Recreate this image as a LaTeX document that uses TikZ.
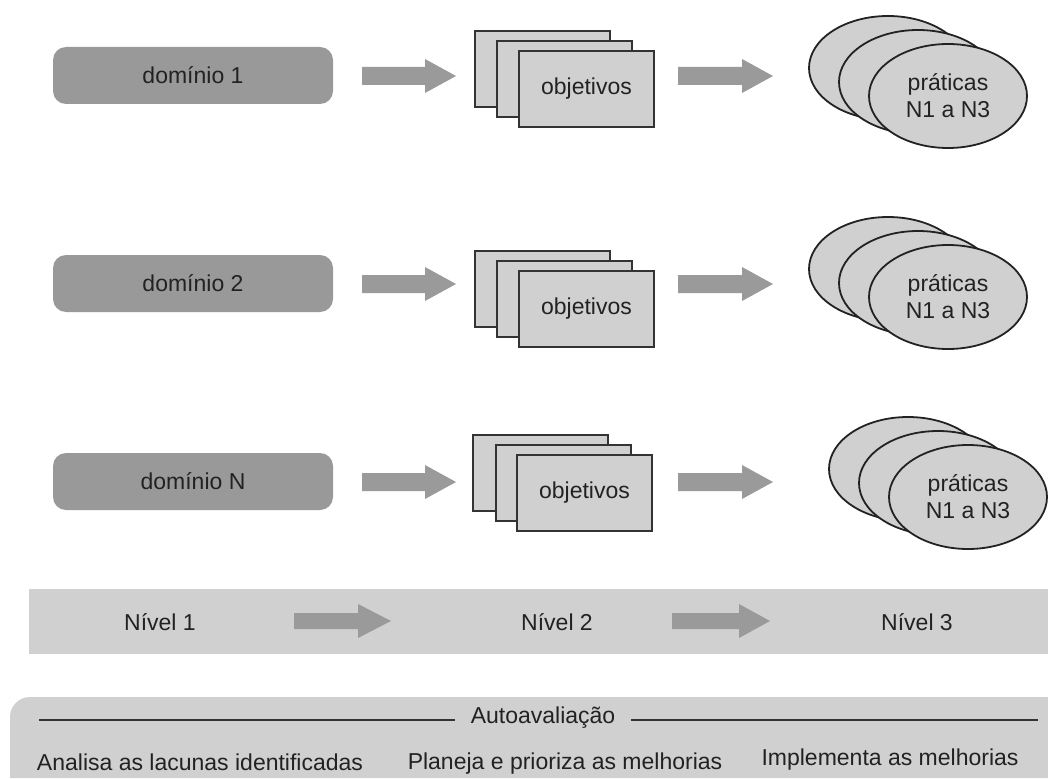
\documentclass[tikz,border=0pt]{standalone}
\usepackage{fontspec}
\setmainfont{Liberation Sans}
\usetikzlibrary{shapes.geometric}
\definecolor{darkbox}{HTML}{999999}
\definecolor{lightbox}{HTML}{D0D0D0}
\definecolor{arrowgray}{HTML}{9A9A9A}
\definecolor{inkgray}{HTML}{222222}
\definecolor{edgegray}{HTML}{333333}
\newcommand{\blkarrow}[4]{% x0, xhead, xtip, y
  \fill[arrowgray] (#1,#4-9) -- (#2,#4-9) -- (#2,#4-17) -- (#3,#4) -- (#2,#4+17) -- (#2,#4+9) -- (#1,#4+9) -- cycle;}
\newcommand{\smallarrow}[4]{%
  \fill[arrowgray] (#1,#4-8) -- (#2,#4-8) -- (#2,#4-17) -- (#3,#4) -- (#2,#4+17) -- (#2,#4+8) -- (#1,#4+8) -- cycle;}
\begin{document}
\begin{tikzpicture}[x=1pt,y=-1pt,
  every node/.style={font=\fontsize{23}{27}\selectfont, text=inkgray},
  dombox/.style={rectangle, rounded corners=13pt, fill=darkbox, minimum width=280pt, minimum height=57pt, inner sep=0pt},
  objbox/.style={rectangle, fill=lightbox, draw=edgegray, line width=1.3pt, minimum width=135pt, minimum height=76pt, inner sep=0pt},
  pracell/.style={ellipse, fill=lightbox, draw=inkgray, line width=1.8pt, minimum width=158pt, minimum height=104pt, inner sep=0pt, align=center},
  plain/.style={inner sep=0pt}
]
\useasboundingbox (0,0) rectangle (1048,778);

% ---- row 1
\node[dombox] (d1) at (193,75.5) {domínio 1};
\blkarrow{362}{425}{456}{76}
\node[objbox] (o1a) at (542.5,69) {};
\node[objbox] (o1b) at (564.5,79) {};
\node[objbox] (o1c) at (586.5,89) {objetivos};
\blkarrow{678}{742}{773}{76}
\node[pracell] (p1a) at (888,68) {};
\node[pracell] (p1b) at (918,82) {};
\node[pracell] (p1c) at (948,96) {práticas\\N1 a N3};

% ---- row 2
\node[dombox] (d2) at (193,283.5) {domínio 2};
\blkarrow{362}{425}{456}{284}
\node[objbox] (o2a) at (542.5,289) {};
\node[objbox] (o2b) at (564.5,299) {};
\node[objbox] (o2c) at (586.5,309) {objetivos};
\blkarrow{678}{742}{773}{284}
\node[pracell] (p2a) at (888,269) {};
\node[pracell] (p2b) at (918,283) {};
\node[pracell] (p2c) at (948,297) {práticas\\N1 a N3};

% ---- row 3
\node[dombox] (d3) at (193,481.5) {domínio N};
\blkarrow{362}{425}{456}{482}
\node[objbox] (o3a) at (540.5,473) {};
\node[objbox] (o3b) at (563.5,483) {};
\node[objbox] (o3c) at (584.5,493) {objetivos};
\blkarrow{678}{742}{773}{482}
\node[pracell] (p3a) at (908,469) {};
\node[pracell] (p3b) at (938,483) {};
\node[pracell] (p3c) at (968,497) {práticas\\N1 a N3};

% ---- level bar
\fill[lightbox] (29,589) rectangle (1048,654);
\node[plain] (n1) at (160,622) {Nível 1};
\smallarrow{294}{358}{391}{621}
\node[plain] (n2) at (557,622) {Nível 2};
\smallarrow{672}{739}{770}{621}
\node[plain] (n3) at (917,622) {Nível 3};

% ---- self assessment box
\fill[lightbox] (10,778) -- (10,717) arc[start angle=180, end angle=270, radius=20] -- (1048,697) -- (1048,778) -- cycle;
\node[inner xsep=16pt, inner ysep=0pt] (auto) at (543,718) {Autoavaliação};
\coordinate (ll) at (39,720);
\coordinate (lr) at (1038,720);
\draw[edgegray, line width=1.6pt] (ll) -- (ll -| auto.west);
\draw[edgegray, line width=1.6pt] (lr -| auto.east) -- (lr);
\node[plain] (t1) at (200,762) {Analisa as lacunas identificadas};
\node[plain] (t2) at (565,764) {Planeja e prioriza as melhorias};
\node[plain] (t3) at (890,760) {Implementa as melhorias};
\end{tikzpicture}
\end{document}
